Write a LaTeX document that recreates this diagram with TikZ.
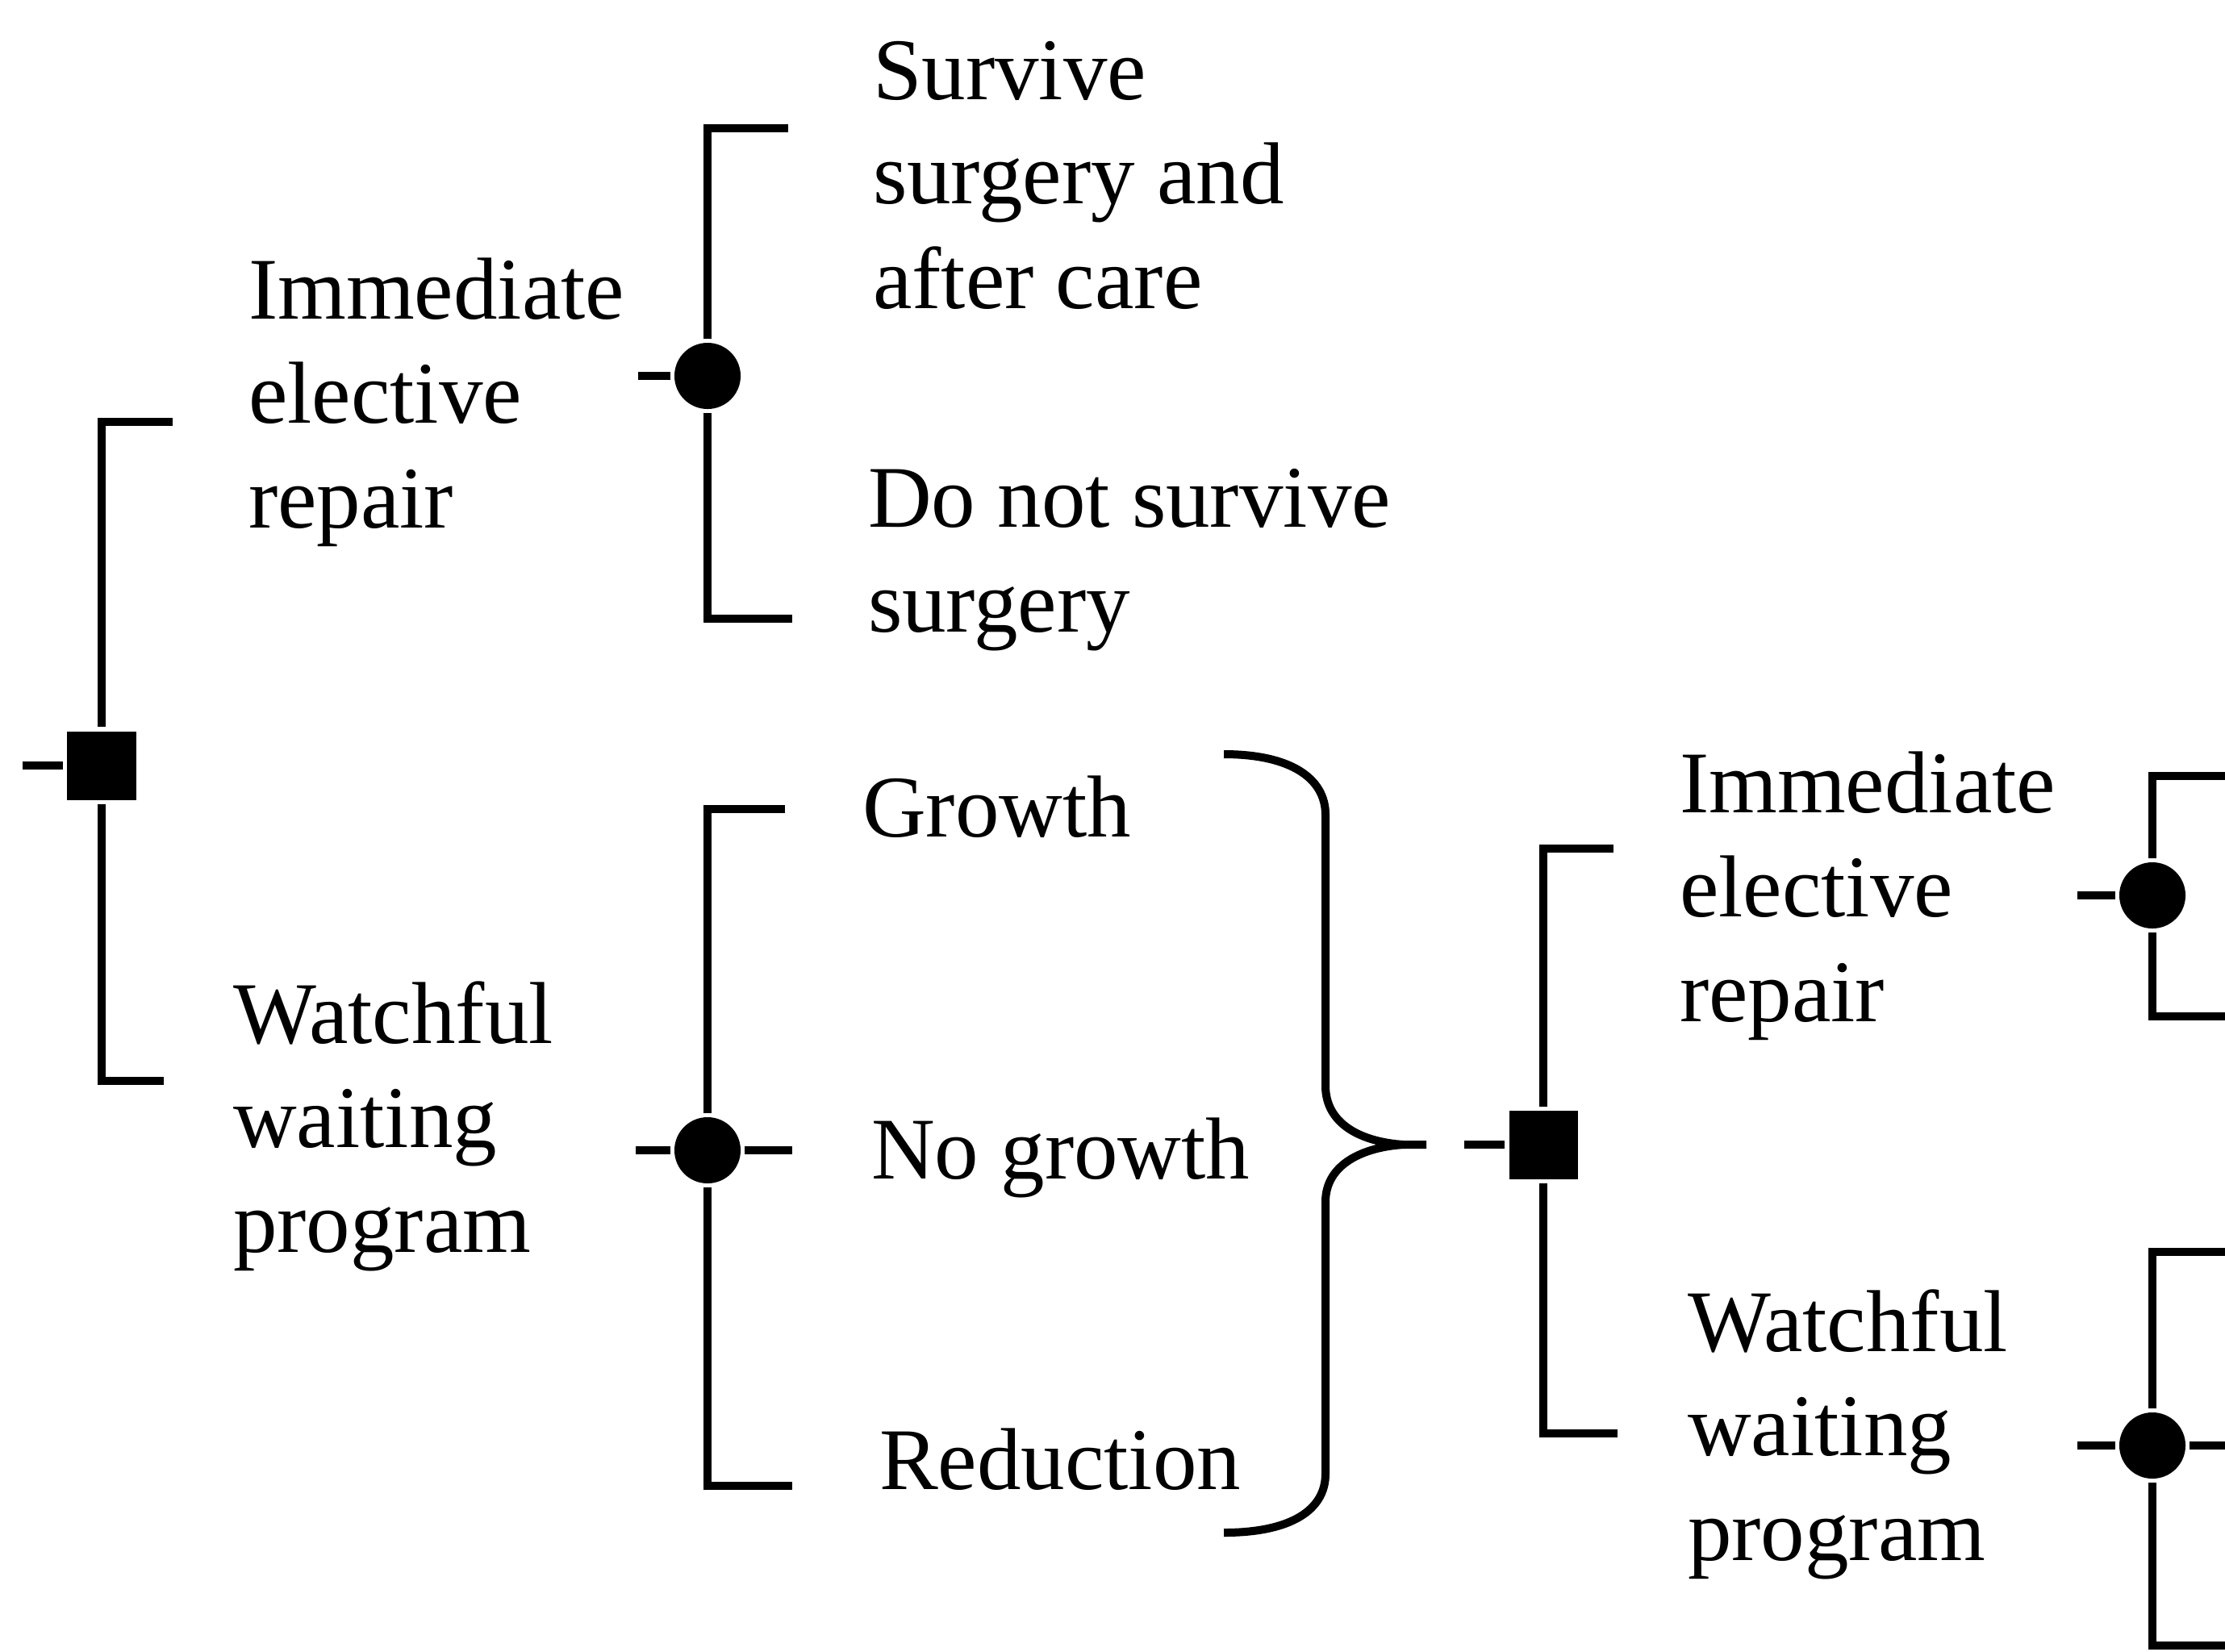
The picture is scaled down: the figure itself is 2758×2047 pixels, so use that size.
\documentclass[tikz,border=0pt]{standalone}
\usepackage{fontspec}
\setmainfont{Liberation Serif}
\begin{document}
\begin{tikzpicture}[x=0.01cm,y=-0.01cm,
  line width=2.85pt,
  decision/.style={rectangle,fill=black,draw=none,minimum size=0.85cm,inner sep=0pt},
  chance/.style={circle,fill=black,draw=none,minimum size=0.82cm,inner sep=0pt},
  lbl/.style={anchor=base west,inner sep=0pt,align=left,font=\fontsize{31}{36.7}\selectfont},
]
\useasboundingbox (0,0) rectangle (2758,2047);

% decision and chance nodes
\node[decision] (d0) at (126,949) {};
\node[chance]   (c1) at (877,466) {};
\node[chance]   (c2) at (877,1426) {};
\node[decision] (d1) at (1913,1419) {};
\node[chance]   (c3) at (2668,1110) {};
\node[chance]   (c4) at (2668,1792) {};

% branch labels (multi-line labels sit on the baseline of their last line)
\node[lbl] (l1) at (303,654)  {Immediate\\elective\\repair};
\node[lbl] (l2) at (284,1552) {Watchful\\waiting\\program};
\node[lbl] (l3) at (1077,382) {Survive\\surgery and\\after care};
\node[lbl] (l4) at (1071,783) {Do not survive\\surgery};
\node[lbl] (l5) at (1064,1037) {Growth};
\node[lbl] (l6) at (1075,1461) {No growth};
\node[lbl] (l7) at (1085,1846) {Reduction};
\node[lbl] (l8) at (2077,1266) {Immediate\\elective\\repair};
\node[lbl] (l9) at (2087,1934) {Watchful\\waiting\\program};

% free ends of the branches
\coordinate (d0in)  at (28,949);
\coordinate (d0top) at (214,523);
\coordinate (d0bot) at (203,1340);
\coordinate (c1in)  at (791,466);
\coordinate (c1top) at (977,159);
\coordinate (c1bot) at (982,767);
\coordinate (c2in)  at (788,1426);
\coordinate (c2top) at (973,1003);
\coordinate (c2mid) at (982,1426);
\coordinate (c2bot) at (982,1842);
\coordinate (d1in)  at (1815,1419);
\coordinate (d1top) at (2000,1052);
\coordinate (d1bot) at (2005,1777);
\coordinate (c3in)  at (2575,1110);
\coordinate (c3top) at (2770,962);
\coordinate (c3bot) at (2770,1260);
\coordinate (c4in)  at (2575,1792);
\coordinate (c4top) at (2770,1552);
\coordinate (c4mid) at (2770,1792);
\coordinate (c4bot) at (2770,2040);

% root decision
\draw (d0in) -- (d0.west);
\draw (d0.north) |- (d0top);
\draw (d0.south) |- (d0bot);

% surgery outcomes
\draw (c1in) -- (c1.west);
\draw (c1.north) |- (c1top);
\draw (c1.south) |- (c1bot);

% growth outcomes
\draw (c2in) -- (c2.west);
\draw (c2.east) -- (c2mid);
\draw (c2.north) |- (c2top);
\draw (c2.south) |- (c2bot);

% brace gathering the three growth outcomes
\coordinate (btop) at (1517,935);
\coordinate (btip) at (1768,1419);
\coordinate (bbot) at (1517,1900);
\draw (btop) .. controls (1600,935) and (1643,965) .. (1643,1010)
  -- (1643,1346) .. controls (1643,1395) and (1690,1416) .. (1740,1419)
  -- (btip);
\draw (1740,1419) .. controls (1690,1422) and (1643,1443) .. (1643,1490)
  -- (1643,1827) .. controls (1643,1872) and (1600,1900) .. (bbot);

% second decision
\draw (d1in) -- (d1.west);
\draw (d1.north) |- (d1top);
\draw (d1.south) |- (d1bot);

% chance nodes after the second decision
\draw (c3in) -- (c3.west);
\draw (c3.north) |- (c3top);
\draw (c3.south) |- (c3bot);
\draw (c4in) -- (c4.west);
\draw (c4.east) -- (c4mid);
\draw (c4.north) |- (c4top);
\draw (c4.south) |- (c4bot);
\end{tikzpicture}
\end{document}
